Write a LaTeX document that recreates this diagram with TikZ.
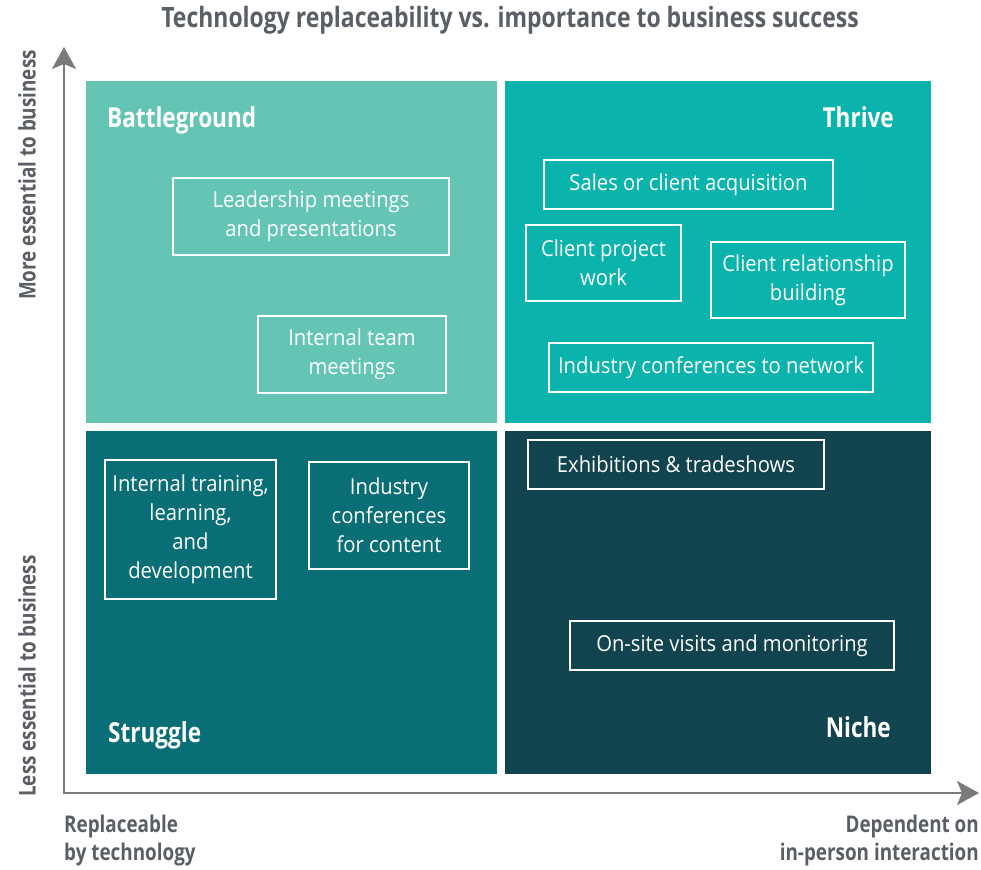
\documentclass[tikz,border=0pt]{standalone}
\usepackage{fontspec}
\setmainfont[FakeStretch=0.92,BoldFeatures={FakeStretch=0.82}]{Open Sans}
\usetikzlibrary{arrows.meta}
\definecolor{battlecol}{HTML}{64C5B4}
\definecolor{thrivecol}{HTML}{0BB3AD}
\definecolor{strugglecol}{HTML}{0A6E77}
\definecolor{nichecol}{HTML}{12444F}
\definecolor{titlegray}{HTML}{5A5F66}
\definecolor{axisgray}{HTML}{7A7A7A}
\tikzset{
  quadlabel/.style={text=white,font=\fontsize{27.5}{30}\selectfont\bfseries,inner sep=0pt},
  axislabel/.style={text=titlegray,font=\fontsize{23}{28}\selectfont\bfseries,inner sep=0pt},
  axisarrow/.style={-{Stealth[length=22pt,width=24pt,inset=5pt]},draw=axisgray,line width=2pt},
  activity/.style={draw=white,line width=1.5pt,text=white,align=center,inner sep=0pt,
    font=\fontsize{22}{29}\selectfont}
}
\begin{document}
\begin{tikzpicture}[x=1pt,y=-1pt]
				\useasboundingbox (0,0) rectangle (981,869);
				
				\fill [battlecol] (86,81) rectangle (497,423);
				\fill [thrivecol] (505,81) rectangle (931,423);
				\fill [strugglecol] (86,431) rectangle (497,774);
				\fill [nichecol] (505,431) rectangle (931,774);
				
				\coordinate (Corner) at (64,793);
				\coordinate (YEnd) at (64,47);
				\coordinate (XEnd) at (979,793);
				\draw [axisarrow] (Corner) -- (YEnd);
				\draw [axisarrow] ([xshift=-1pt]Corner) -- (XEnd);
				
				\node (Title) [text=titlegray,font=\fontsize{28}{32}\selectfont\bfseries] at (510,20) {Technology replaceability vs. importance to business success};
				\node (MoreEssential) [axislabel,rotate=90] at (27,175) {More essential to business};
				\node (LessEssential) [axislabel,rotate=90] at (27,676) {Less essential to business};
				\node (Replaceable) [axislabel,align=left,anchor=north west] at (64,815) {Replaceable\\by technology};
				\node (Dependent) [axislabel,align=right,anchor=north east] at (979,815) {Dependent on\\in-person interaction};
				
				\node (Battleground) [quadlabel,anchor=base west] at (107,128) {Battleground};
				\node (Thrive) [quadlabel,anchor=base east] at (894,128) {Thrive};
				\node (Struggle) [quadlabel,anchor=base west] at (108,742) {Struggle};
				\node (Niche) [quadlabel,anchor=base east] at (891,737) {Niche};
				
				\begin{scope}[every node/.style={activity}]
					\node (LeadershipMeetings) [minimum width=276pt,minimum height=77pt] at (311,216.5) {Leadership meetings\\and presentations};
					\node (TeamMeetings) [minimum width=188pt,minimum height=77pt] at (352,354.5) {Internal team\\meetings};
					\node (SalesAcquisition) [minimum width=289pt,minimum height=49pt] at (688.5,184.5) {Sales or client acquisition};
					\node (ProjectWork) [minimum width=155pt,minimum height=76pt] at (603.5,263) {Client project\\work};
					\node (RelationshipBuilding) [minimum width=194pt,minimum height=76pt] at (808,280) {Client relationship\\building};
					\node (ConferencesNetwork) [minimum width=324pt,minimum height=49pt] at (711,367.5) {Industry conferences to network};
					\node (Exhibitions) [minimum width=296pt,minimum height=49pt] at (676,464.5) {Exhibitions \& tradeshows};
					\node (InternalTraining) [minimum width=171pt,minimum height=139pt] at (190.5,529.5) {Internal training,\\learning,\\and\\development};
					\node (ConferencesContent) [minimum width=160pt,minimum height=107pt] at (389,515.5) {Industry\\conferences\\for content};
					\node (OnSiteVisits) [minimum width=324pt,minimum height=49pt] at (732,645.5) {On-site visits and monitoring};
				\end{scope}
			\end{tikzpicture}
\end{document}
